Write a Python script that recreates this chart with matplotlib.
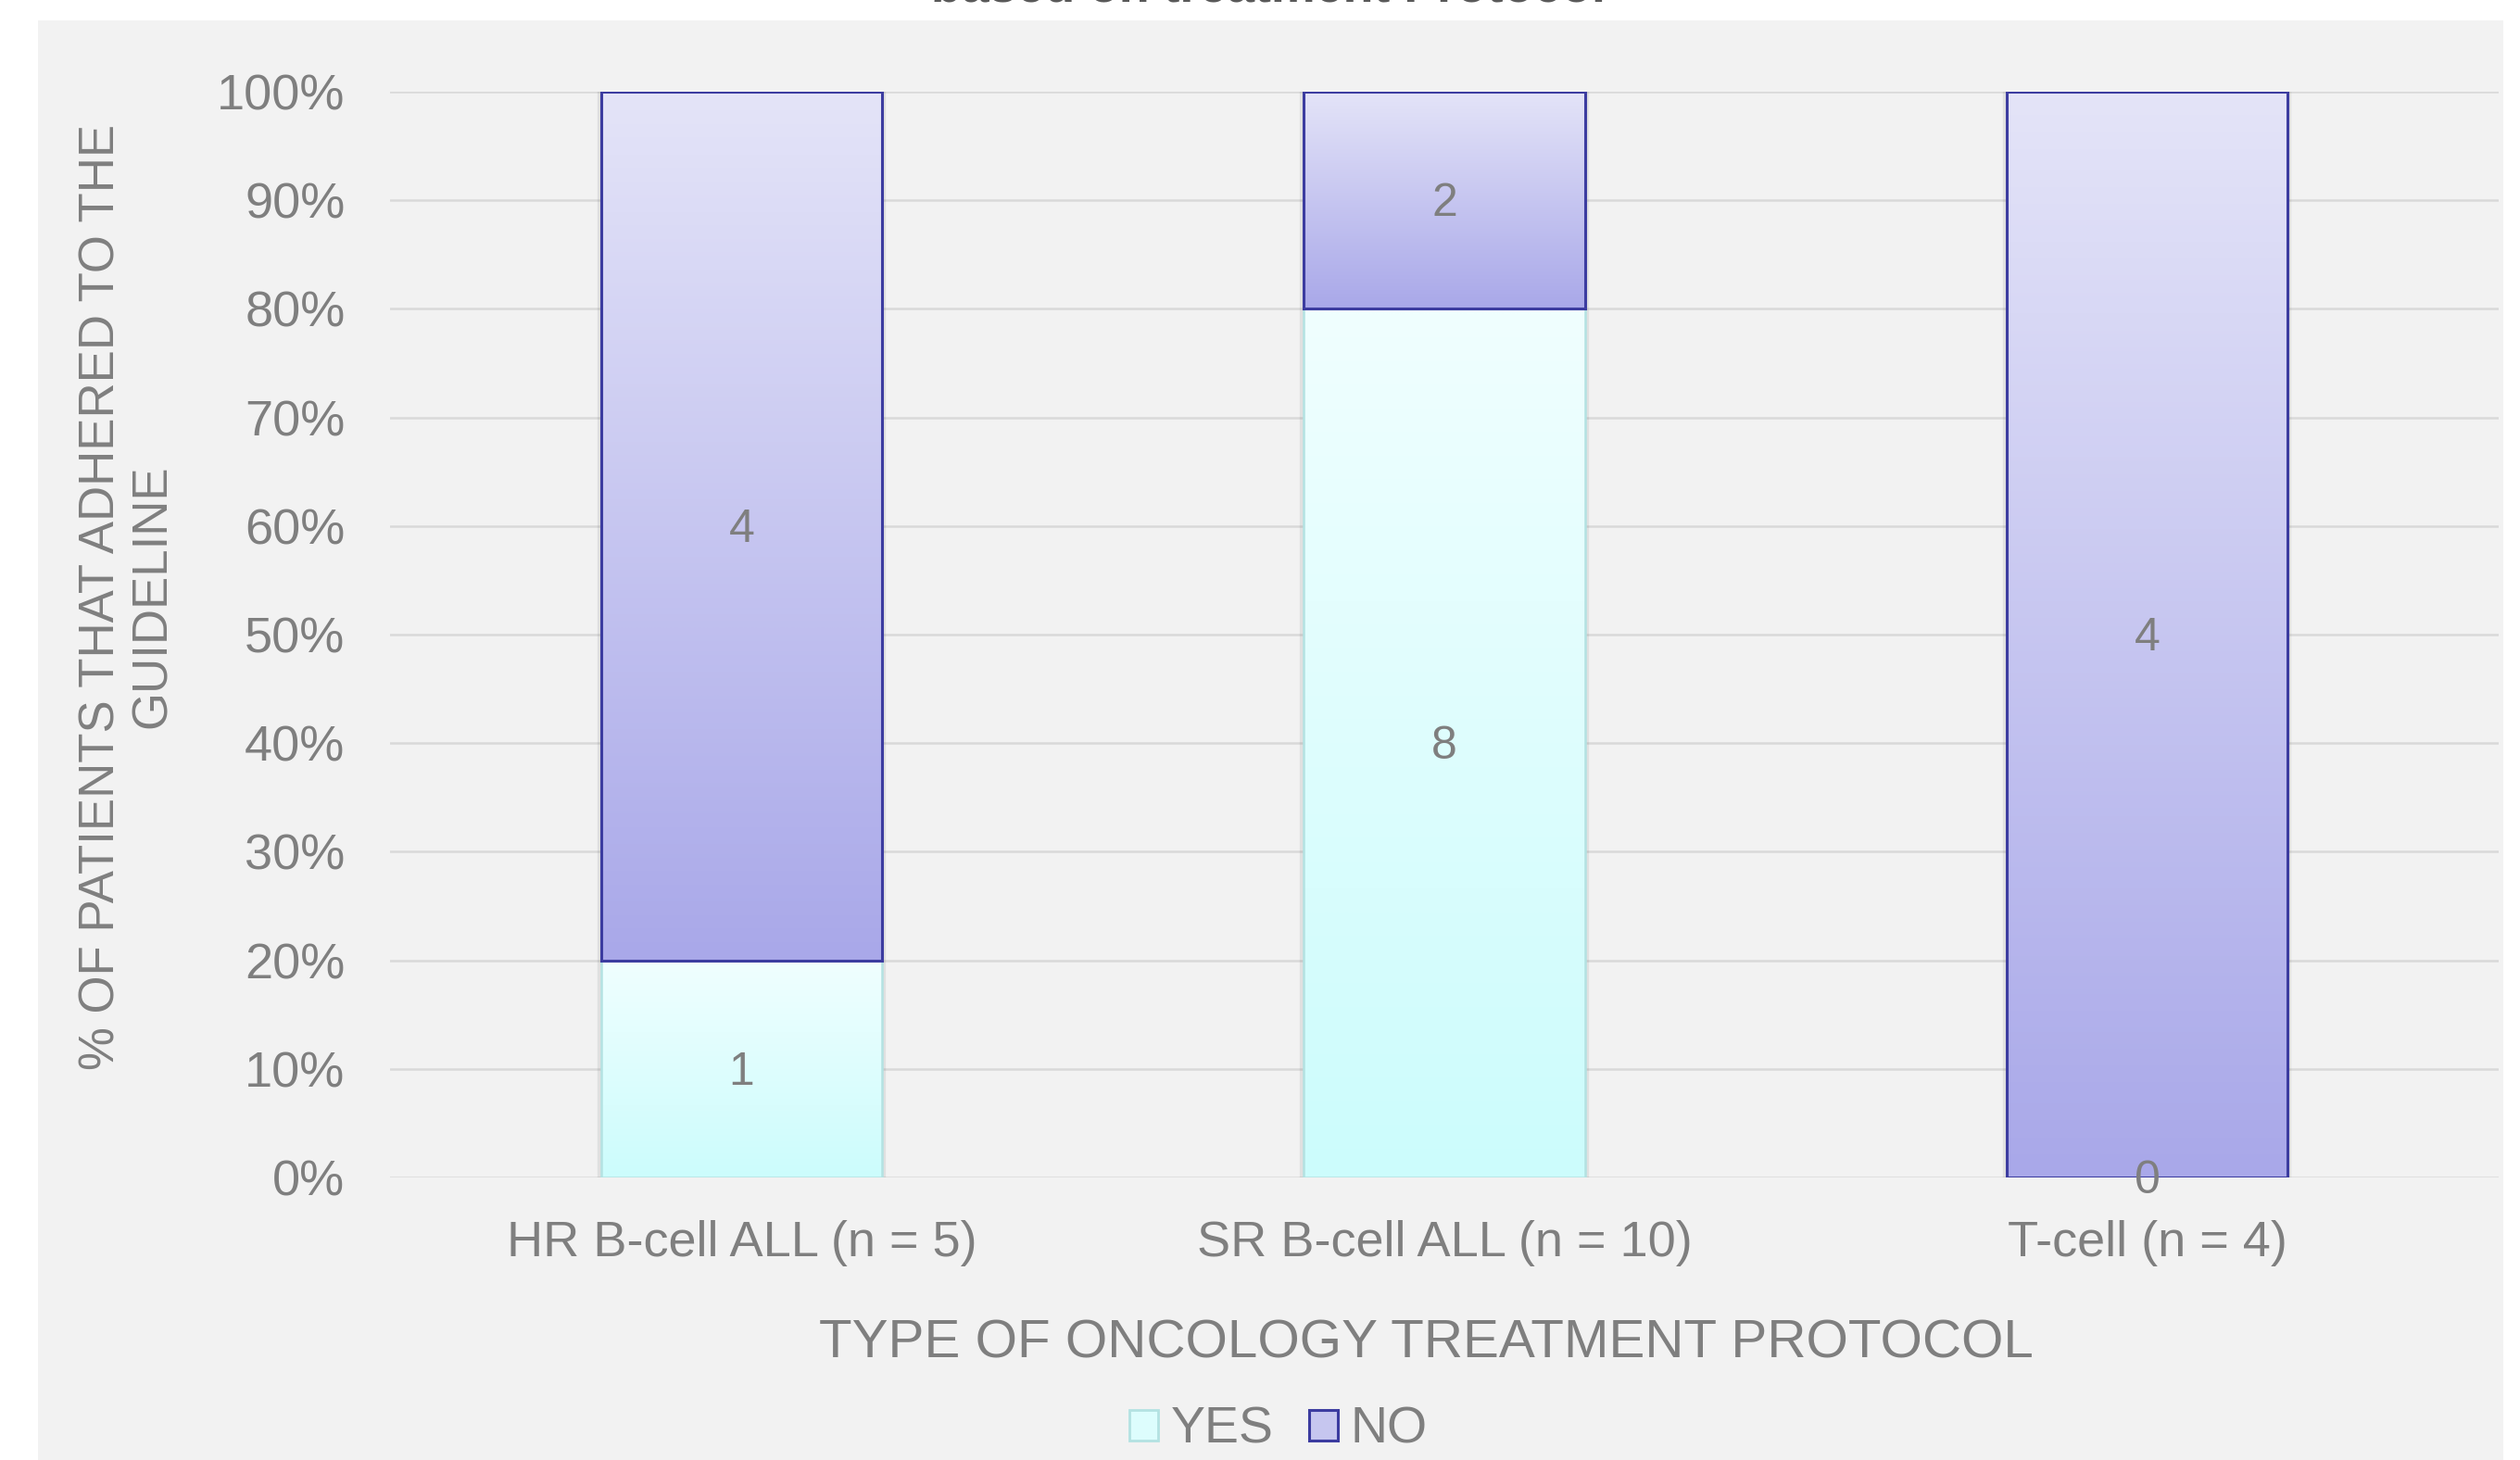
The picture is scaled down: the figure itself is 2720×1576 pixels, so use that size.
import numpy as np
import matplotlib
matplotlib.use("Agg")
import matplotlib.pyplot as plt
from matplotlib.patches import Rectangle, Patch
from matplotlib.colors import LinearSegmentedColormap
from matplotlib.ticker import PercentFormatter
from matplotlib.transforms import offset_copy

plt.rcParams["font.family"] = ["Liberation Sans", "DejaVu Sans"]

# --- data -------------------------------------------------------------
categories = ["HR B-cell ALL (n = 5)", "SR B-cell ALL (n = 10)", "T-cell (n = 4)"]
yes_counts = [1, 8, 0]
no_counts = [4, 2, 4]
series_names = ["YES", "NO"]
title_text = "based on treatment Protocol"
x_title = "TYPE OF ONCOLOGY TREATMENT PROTOCOL"
y_title = "% OF PATIENTS THAT ADHERED TO THE\nGUIDELINE"

yes = np.array(yes_counts, dtype=float)
no = np.array(no_counts, dtype=float)
total = yes + no
yes_share = yes / total
no_share = no / total

# --- styling ----------------------------------------------------------
TEXT = "#7f7f7f"
PANEL = "#f2f2f2"
GRID = "#d9d9d9"
YES_TOP, YES_BOT, YES_EDGE = "#f0ffff", "#ccfcfc", "#b3e2e2"
NO_TOP, NO_BOT, NO_EDGE = "#e4e4f8", "#a9a8e9", "#3c3ca0"

W, H, DPI = 2720, 1576, 200
fig = plt.figure(figsize=(W / DPI, H / DPI), dpi=DPI, facecolor="white")

# grey chart area
fig.patches.append(Rectangle((41 / W, 0), (2702 - 41) / W, (H - 22) / H,
                             transform=fig.transFigure, facecolor=PANEL,
                             edgecolor="none", zorder=-5))

ax = fig.add_axes([421 / W, 1 - 1271 / H, (2697 - 421) / W, (1271 - 99) / H])
ax.set_facecolor("none")
ax.set_zorder(2)

x = np.arange(len(categories))
bar_w = 0.4


def gradient_fill(bars, top, bottom):
    cmap = LinearSegmentedColormap.from_list("g", [bottom, top])
    grad = np.linspace(0, 1, 256).reshape(-1, 1)
    for p in bars:
        x0, y0, w, h = p.get_x(), p.get_y(), p.get_width(), p.get_height()
        if h <= 0:
            continue
        im = ax.imshow(grad, extent=[x0, x0 + w, y0, y0 + h], origin="lower",
                       aspect="auto", cmap=cmap, zorder=2, interpolation="bicubic")
        im.set_clip_path(p)


# soft shadow behind the stacks
ax.bar(x, total / total, bar_w, bottom=0, facecolor="none",
       edgecolor=(0, 0, 0, 0.07), linewidth=3.0, zorder=1)

yes_bars = ax.bar(x, yes_share, bar_w, facecolor="none", edgecolor=YES_EDGE,
                  linewidth=0.9, zorder=3, label=series_names[0])
no_bars = ax.bar(x, no_share, bar_w, bottom=yes_share, facecolor="none",
                 edgecolor=NO_EDGE, linewidth=1.1, zorder=3, label=series_names[1])
gradient_fill(yes_bars, YES_TOP, YES_BOT)
gradient_fill(no_bars, NO_TOP, NO_BOT)

# value labels at segment centres
lbl_tr = offset_copy(ax.transData, fig=fig, x=0, y=-4, units="dots")
for xi, ys, c in zip(x, yes_share, yes_counts):
    ax.text(xi, ys / 2, f"{c}", ha="center", va="center", fontsize=18,
            color=TEXT, zorder=5, transform=lbl_tr)
for xi, ys, ns, c in zip(x, yes_share, no_share, no_counts):
    ax.text(xi, ys + ns / 2, f"{c}", ha="center", va="center", fontsize=18,
            color=TEXT, zorder=5, transform=lbl_tr)

ax.set_xlim(-0.5, 2.5)
ax.set_ylim(0, 1)
ax.set_yticks(np.linspace(0, 1, 11))
ax.yaxis.set_major_formatter(PercentFormatter(1.0, decimals=0))
ax.set_xticks(x)
ax.set_xticklabels(categories)
ax.tick_params(axis="y", length=0, pad=17.5, labelsize=19.5, labelcolor=TEXT)
ax.tick_params(axis="x", length=0, pad=16.5, labelsize=19.5, labelcolor=TEXT)
ax.grid(axis="y", color=GRID, linewidth=0.9, zorder=0)
ax.set_axisbelow(True)
for s in ax.spines.values():
    s.set_visible(False)

# axis titles
fig.text(1539 / W, 1 - 1450 / H, x_title, ha="center", va="center",
         fontsize=21, color=TEXT)
fig.text(137 / W, 1 - 644 / H, y_title, ha="center", va="center",
         rotation=90, fontsize=19, color=TEXT, linespacing=1.15,
         multialignment="center")

# chart title (runs off the top edge)
fig.text(1369 / W, 1 - 1.5 / H, title_text, ha="center", va="baseline",
         fontsize=19.3, fontweight="bold", color="#595959")

# legend
handles = [Patch(facecolor="#ddfdfd", edgecolor=YES_EDGE, linewidth=1.0),
           Patch(facecolor="#c6c6ef", edgecolor=NO_EDGE, linewidth=1.1)]
leg = fig.legend(handles, series_names, loc="center", ncol=2,
                 bbox_to_anchor=(1380 / W, 1 - 1544 / H), frameon=False,
                 fontsize=20, handlelength=0.55, handleheight=0.55,
                 handletextpad=0.25, columnspacing=0.7, borderpad=0)
for t in leg.get_texts():
    t.set_color(TEXT)

fig.savefig("out.png", dpi=DPI, facecolor="white")
